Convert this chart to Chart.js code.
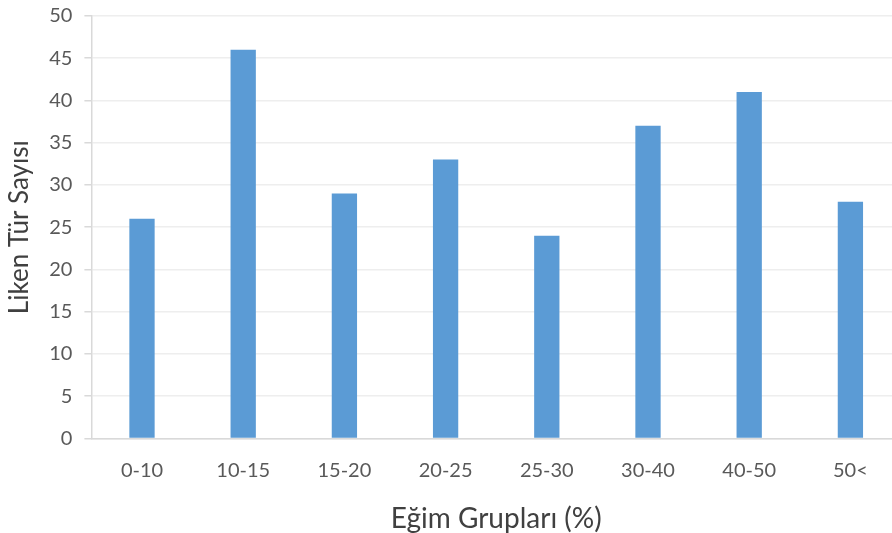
<!DOCTYPE html>
<html>

<head>
    <title>Liken Tür Sayısı</title>
    <script src="https://cdn.jsdelivr.net/npm/chart.js"></script>
    <style>
        html, body { margin: 0; padding: 0; overflow: hidden; background: #fff; }
        #wrap { width: 901px; height: 541px; margin-top: -8px; }
    </style>
</head>

<body>
    <div id="wrap"><canvas id="egimChart"></canvas></div>

    <script>
        const categories = ['0-10', '10-15', '15-20', '20-25', '25-30', '30-40', '40-50', '50<'];
        const turSayisi = [26, 46, 29, 33, 24, 37, 41, 28];
        const yTicks = [0, 5, 10, 15, 20, 25, 30, 35, 40, 45, 50];

        const fontFamily = 'Lato, "Open Sans", sans-serif';
        const textColor = '#595959';

        const ctx = document.getElementById('egimChart').getContext('2d');

        const data = {
            labels: categories,
            datasets: [{
                label: 'Liken Tür Sayısı',
                data: turSayisi,
                backgroundColor: '#5B9BD5',
                barPercentage: 0.25,
                categoryPercentage: 1.0
            }]
        };

        const options = {
            responsive: true,
            maintainAspectRatio: false,
            animation: false,
            layout: { padding: { top: 0, left: 4, right: 0, bottom: -3 } },
            plugins: {
                legend: { display: false },
                tooltip: { enabled: false }
            },
            scales: {
                x: {
                    grid: { display: false, drawTicks: false },
                    border: { color: '#D9D9D9', width: 1.5 },
                    ticks: { color: textColor, font: { family: fontFamily, size: 20 }, padding: 20 },
                    title: {
                        display: true,
                        text: 'Eğim Grupları (%)',
                        color: '#404040',
                        font: { family: fontFamily, size: 28 },
                        padding: { top: 0, bottom: 0 }
                    }
                },
                y: {
                    min: 0,
                    max: 50,
                    afterBuildTicks: axis => { axis.ticks = yTicks.map(v => ({ value: v })); },
                    grid: { color: '#EEEEEE', lineWidth: 1.5, tickLength: 7, tickColor: '#D9D9D9' },
                    border: { color: '#D9D9D9', width: 1.5 },
                    ticks: { color: textColor, font: { family: fontFamily, size: 20 }, padding: 12 },
                    title: {
                        display: true,
                        text: 'Liken Tür Sayısı',
                        color: '#404040',
                        font: { family: fontFamily, size: 26 },
                        padding: { top: 0, bottom: 2 }
                    }
                }
            }
        };

        new Chart(ctx, { type: 'bar', data, options });
    </script>
</body>

</html>
